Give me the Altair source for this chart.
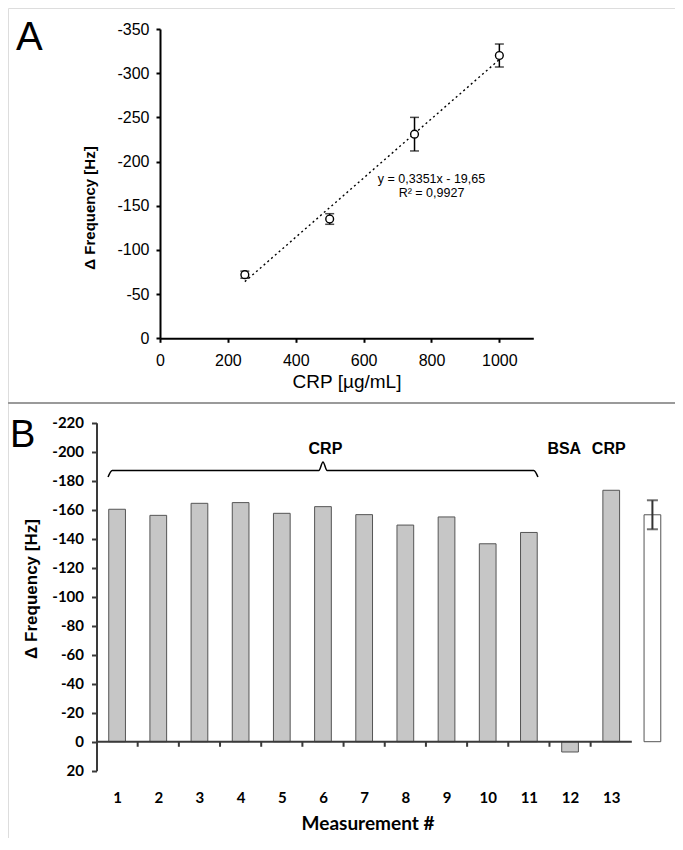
import altair as alt
import pandas as pd

# ---------------- Panel A data ----------------
crp_conc = [250, 500, 750, 1000]
freq_a = [-72, -135, -231, -320]
err_a = [4, 6, 19, 13]
fit_slope = 0.3351
fit_intercept = -19.65
fit_x = [250, 1000]
eq_text = ["y = 0,3351x - 19,65", "R\u00b2 = 0,9927"]
eq_pos_x = [800, 800]
eq_pos_y = [-180, -164]
a_x_ticks = [0, 200, 400, 600, 800, 1000]
a_y_ticks = [-350, -300, -250, -200, -150, -100, -50, 0]

# ---------------- Panel B data ----------------
meas_no = [1, 2, 3, 4, 5, 6, 7, 8, 9, 10, 11, 12, 13]
freq_b = [-160.3, -156.1, -164.4, -164.9, -157.5, -162.1, -156.6,
          -149.4, -155.0, -136.5, -144.3, 7.1, -173.4]
mean_slot = 14
mean_b = -156.5
sd_b = 10.0
b_y_ticks = [-220, -200, -180, -160, -140, -120, -100, -80, -60, -40, -20, 0, 20]
group_text = ["CRP", "BSA", "CRP"]
group_x = [6.06, 11.86, 12.94]
group_y = -202
brace_first, brace_last = 1, 11

FONT = "Liberation Sans"
FONT_B = "Lato"
HYPHEN = "datum.value < 0 ? '-' + format(-datum.value, 'd') : format(datum.value, 'd')"

# whole figure is one layered view; each panel gets its own pixel ranges
W, H = 667, 830

# ======================= Panel A =======================
A_X = [152, 525.3]     # pixel range of x (0..1100)
A_Y = [21, 330.3]      # pixel range of y (-350..0)
sxA = alt.Scale(domain=[0, 1100], range=A_X, nice=False, zero=False)
syA = alt.Scale(domain=[-350, 0], range=A_Y, nice=False, zero=False)
axA_x = alt.Axis(values=a_x_ticks, title=None, grid=False, orient="bottom", offset=-(H - A_Y[1]),
                 domain=True, labelFont=FONT, labelFontSize=16, labelColor="black", domainColor="black",
                 domainWidth=2, tickColor="black", tickWidth=2, tickSize=4, labelPadding=10,
                 labelFlush=False, format="d")
axA_y = alt.Axis(values=a_y_ticks, title=None, grid=False, orient="left", offset=-A_X[0],
                 domain=True, labelFont=FONT, labelFontSize=16, labelColor="black", domainColor="black",
                 domainWidth=2, tickColor="black", tickWidth=2, tickSize=4, labelPadding=7,
                 labelExpr=HYPHEN)


def XA(f):
    return alt.X(f, scale=sxA, axis=axA_x)


def YA(f):
    return alt.Y(f, scale=syA, axis=axA_y)


dfA = pd.DataFrame({"crp": crp_conc, "freq": freq_a, "err": err_a})
dfA["lo"] = dfA["freq"] - dfA["err"]
dfA["hi"] = dfA["freq"] + dfA["err"]
capsA = pd.concat([dfA[["crp"]].assign(freq=dfA["lo"]), dfA[["crp"]].assign(freq=dfA["hi"])])
fitA = pd.DataFrame({"crp": fit_x, "freq": [-(fit_slope * v + fit_intercept) for v in fit_x]})
eqA = pd.DataFrame({"crp": eq_pos_x, "freq": eq_pos_y, "t": eq_text})
one = pd.DataFrame({"k": [0]})

fit_line = alt.Chart(fitA).mark_line(color="black", strokeDash=[2, 3], strokeWidth=1.4).encode(
    x=XA("crp:Q"), y=YA("freq:Q"))
err_rule = alt.Chart(dfA).mark_rule(color="black", strokeWidth=1.5).encode(
    x=XA("crp:Q"), y=YA("lo:Q"), y2="hi:Q")
err_caps = alt.Chart(capsA).mark_tick(color="black", orient="horizontal", size=9, thickness=1.5).encode(
    x=XA("crp:Q"), y=YA("freq:Q"))
pts = alt.Chart(dfA).mark_point(shape="circle", fill="white", stroke="black", strokeWidth=1.4,
                                size=60, opacity=1, filled=True).encode(x=XA("crp:Q"), y=YA("freq:Q"))
eq = alt.Chart(eqA).mark_text(font=FONT, fontSize=12.5, color="black", align="center",
                              baseline="middle").encode(x=XA("crp:Q"), y=YA("freq:Q"), text="t:N")
letterA = alt.Chart(one).mark_text(text="A", font=FONT, fontSize=40, align="left",
                                   baseline="alphabetic", color="black").encode(
    x=alt.value(8), y=alt.value(42))
ytitleA = alt.Chart(one).mark_text(text="\u0394 Frequency  [Hz]", font=FONT, fontSize=15,
                                   fontWeight="bold", angle=270, align="center",
                                   baseline="middle", color="black").encode(
    x=alt.value(82), y=alt.value(200))
xtitleA = alt.Chart(one).mark_text(text="CRP [\u00b5g/mL]", font=FONT, fontSize=19, align="center",
                                   baseline="middle", color="black").encode(
    x=alt.value(339), y=alt.value(374))

panelA = alt.layer(fit_line, err_rule, err_caps, pts, eq, letterA, ytitleA, xtitleA)

# ======================= Panel B =======================
B_X = [88.5, 665]      # pixel range of x (0.5..14.5)
B_Y = [414.7, 762.7]   # pixel range of y (-220..20)
HALF = 0.203
sxB = alt.Scale(domain=[0.5, 14.5], range=B_X, nice=False, zero=False)
syB = alt.Scale(domain=[-220, 20], range=B_Y, nice=False, zero=False)
AXC = "#3a3a3a"
axB_x = alt.Axis(values=meas_no, title=None, grid=False, orient="bottom", offset=-(H - B_Y[1]),
                 domain=False, ticks=False, tickSize=0, labelFont=FONT_B, labelFontSize=15,
                 labelFontWeight="bold", labelColor="black", labelPadding=20, labelFlush=False,
                 format="d")
axB_y = alt.Axis(values=b_y_ticks, title=None, grid=False, orient="left", offset=-B_X[0],
                 domain=True, labelFont=FONT_B, labelFontSize=15, labelFontWeight="bold",
                 labelColor="black", domainColor=AXC, domainWidth=2, tickColor=AXC, tickWidth=2,
                 tickSize=5, labelPadding=8, labelExpr=HYPHEN)


def XB(f):
    return alt.X(f, scale=sxB, axis=axB_x)


def YB(f):
    return alt.Y(f, scale=syB, axis=axB_y)


dfB = pd.DataFrame({"pos": meas_no, "val": freq_b})
dfB["x0"] = dfB["pos"] - HALF
dfB["x1"] = dfB["pos"] + HALF
dfM = pd.DataFrame({"pos": [mean_slot], "val": [mean_b], "lo": [mean_b - sd_b], "hi": [mean_b + sd_b]})
dfM["x0"] = dfM["pos"] - HALF
dfM["x1"] = dfM["pos"] + HALF
capsM = pd.DataFrame({"pos": [mean_slot, mean_slot], "val": [mean_b - sd_b, mean_b + sd_b]})
zero_line = pd.DataFrame({"a": [meas_no[0] - 0.5], "b": [meas_no[-1] + 0.5], "val": [0]})
bounds_ticks = pd.DataFrame({"pos": [m + 0.5 for m in meas_no[:-1]], "val": 0, "val2": 3.5})

bmid = (brace_first + brace_last) / 2
brace = pd.DataFrame({
    "pos": [brace_first - 0.22, brace_first - 0.12, bmid - 0.1, bmid, bmid + 0.1,
            brace_last + 0.12, brace_last + 0.22],
    "val": [-182.5, -187.0, -187.0, -192.9, -187.0, -187.0, -182.5],
    "o": list(range(7)),
})
groups = pd.DataFrame({"pos": group_x, "val": [group_y] * 3, "t": group_text})

bars = alt.Chart(dfB).mark_bar(fill="#c6c6c6", stroke="#555555", strokeWidth=1).encode(
    x=XB("x0:Q"), x2="x1:Q", y=YB("val:Q"), y2=alt.datum(0))
mbar = alt.Chart(dfM).mark_bar(fill="white", stroke="#555555", strokeWidth=1).encode(
    x=XB("x0:Q"), x2="x1:Q", y=YB("val:Q"), y2=alt.datum(0))
merr = alt.Chart(dfM).mark_rule(color="#333333", strokeWidth=2).encode(
    x=XB("pos:Q"), y=YB("lo:Q"), y2="hi:Q")
mcaps = alt.Chart(capsM).mark_tick(color="#333333", orient="horizontal", size=11, thickness=2).encode(
    x=XB("pos:Q"), y=YB("val:Q"))
zl = alt.Chart(zero_line).mark_rule(color=AXC, strokeWidth=2).encode(
    x=XB("a:Q"), x2="b:Q", y=YB("val:Q"))
zt = alt.Chart(bounds_ticks).mark_rule(color=AXC, strokeWidth=2).encode(
    x=XB("pos:Q"), y=YB("val:Q"), y2="val2:Q")
br = alt.Chart(brace).mark_line(color="black", strokeWidth=1.5, interpolate="monotone").encode(
    x=XB("pos:Q"), y=YB("val:Q"), order="o:Q")
gt = alt.Chart(groups).mark_text(font=FONT, fontSize=16, fontWeight="bold", color="black",
                                 align="center", baseline="middle").encode(
    x=XB("pos:Q"), y=YB("val:Q"), text="t:N")
letterB = alt.Chart(one).mark_text(text="B", font=FONT, fontSize=38, align="left",
                                   baseline="alphabetic", color="black").encode(
    x=alt.value(2), y=alt.value(439))
sep = alt.Chart(one).mark_rule(color="#9a9a9a", strokeWidth=2).encode(
    x=alt.value(0), x2=alt.value(W), y=alt.value(395))
ytitleB = alt.Chart(one).mark_text(text="\u0394 Frequency  [Hz]", font=FONT, fontSize=17,
                                   fontWeight="bold", angle=270, align="center",
                                   baseline="middle", color="black").encode(
    x=alt.value(23.5), y=alt.value(581))
xtitleB = alt.Chart(one).mark_text(text="Measurement #", font=FONT_B, fontSize=19,
                                   fontWeight="bold", align="center", baseline="middle",
                                   color="black").encode(
    x=alt.value(360), y=alt.value(815.5))

panelB = alt.layer(sep, bars, mbar, merr, mcaps, zl, zt, br, gt, letterB, ytitleB, xtitleB)

chart = alt.layer(panelA, panelB).resolve_scale(
    x="independent", y="independent").resolve_axis(x="independent", y="independent").properties(
    width=W, height=H, padding=0, autosize=alt.AutoSizeParams(type="none")).configure_view(
    strokeWidth=0, strokeOpacity=0).configure_axis(
    domain=False, domainColor="white", tickColor="white", labelColor="white").configure(
    background="white")

chart.save("out.html", embed_options={"renderer": "svg", "actions": False})
